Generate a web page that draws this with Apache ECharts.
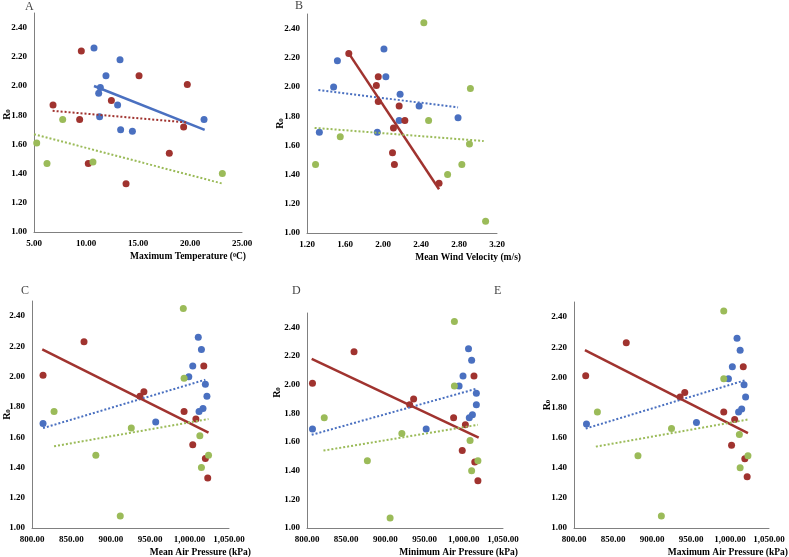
<!DOCTYPE html>
<html>
<head>
<meta charset="utf-8">
<script src="https://cdn.jsdelivr.net/npm/echarts@6/dist/echarts.min.js"></script>
<style>
  html, body { margin: 0; padding: 0; background: #fff; }
  #main { width: 789px; height: 557px; }
</style>
</head>
<body>
<div id="main"></div>
<script>
// A: 最高气温
var aBlue = [[10.77,2.26],[13.27,2.18],[11.92,2.07],[11.38,1.99],[11.22,1.95],[13.04,1.87],[11.31,1.79],[13.33,1.70],[14.46,1.69],[21.35,1.77]];
var aRed = [[9.55,2.24],[6.83,1.87],[9.39,1.77],[15.10,2.07],[12.44,1.90],[19.74,2.01],[19.39,1.72],[18.01,1.54],[10.22,1.47],[13.85,1.33]];
var aGreen = [[7.76,1.77],[5.26,1.61],[6.25,1.47],[10.67,1.48],[23.11,1.40]];
var aBlueFit = [[10.77,2.00],[21.41,1.70]];
var aRedFit = [[6.79,1.83],[19.74,1.75]];
var aGreenFit = [[5.0,1.67],[23.2,1.33]];
// B: 平均风速
var bBlue = [[1.33,1.69],[1.52,2.18],[1.48,2.00],[2.01,2.26],[2.03,2.07],[1.94,1.69],[2.18,1.95],[2.17,1.77],[2.38,1.87],[2.79,1.79]];
var bRed = [[1.64,2.23],[1.95,2.07],[1.93,2.01],[1.95,1.90],[2.17,1.87],[2.23,1.77],[2.11,1.72],[2.10,1.55],[2.12,1.47],[2.59,1.34]];
var bGreen = [[1.29,1.47],[1.55,1.66],[2.43,2.44],[2.48,1.77],[2.92,1.99],[2.91,1.61],[2.83,1.47],[2.68,1.40],[3.08,1.08]];
var bBlueFit = [[1.32,1.98],[2.79,1.86]];
var bRedFit = [[1.64,2.23],[2.59,1.30]];
var bGreenFit = [[1.28,1.72],[3.06,1.63]];
// C: 平均气压
var cBlue = [[814,1.69],[957,1.70],[999,2.00],[1004,2.07],[1011,2.26],[1015,2.18],[1020,1.95],[1022,1.87],[1017,1.79],[1012,1.77]];
var cRed = [[814,2.01],[866,2.23],[942,1.90],[937,1.87],[993,1.77],[1008,1.72],[1004,1.55],[1018,2.07],[1020,1.46],[1023,1.33]];
var cGreen = [[992,2.45],[993,1.99],[1013,1.61],[1015,1.40],[1024,1.48],[828,1.77],[926,1.66],[881,1.48],[912,1.08]];
var cBlueFit = [[814,1.66],[1020,1.98]];
var cRedFit = [[813,2.18],[1024,1.63]];
var cGreenFit = [[828,1.54],[1024,1.72]];
// D: 最低气压
var dBlue = [[807,1.69],[952,1.69],[994,1.99],[999,2.06],[1006,2.25],[1010,2.17],[1016,1.94],[1016,1.86],[1011,1.79],[1007,1.77]];
var dRed = [[807,2.01],[860,2.23],[936,1.90],[931,1.86],[987,1.77],[1002,1.72],[998,1.54],[1013,2.06],[1014,1.46],[1018,1.33]];
var dGreen = [[988,2.44],[988,1.99],[1008,1.61],[1010,1.40],[1018,1.47],[822,1.77],[921,1.66],[877,1.47],[906,1.07]];
var dBlueFit = [[806,1.65],[1015,1.97]];
var dRedFit = [[806,2.18],[1019,1.63]];
var dGreenFit = [[821,1.54],[1018,1.72]];
// E: 最高气压
var eBlue = [[816,1.69],[957,1.70],[998,1.99],[1003,2.07],[1009,2.26],[1013,2.18],[1018,1.95],[1020,1.87],[1015,1.79],[1011,1.77]];
var eRed = [[815,2.01],[867,2.23],[942,1.90],[936,1.87],[992,1.77],[1006,1.72],[1002,1.55],[1017,2.07],[1019,1.46],[1022,1.34]];
var eGreen = [[992,2.44],[992,1.99],[1012,1.62],[1013,1.40],[1023,1.48],[830,1.77],[925,1.66],[882,1.48],[912,1.08]];
var eBlueFit = [[815,1.66],[1019,1.98]];
var eRedFit = [[814,2.18],[1023,1.63]];
var eGreenFit = [[828,1.54],[1023,1.72]];

var panelLetters = ['A', 'B', 'C', 'D', 'E'];
var xNames = ['{t|Maximum Temperature (}{sup|0}{t|C)}', 'Mean Wind Velocity (m/s)', 'Mean Air Pressure (kPa)', 'Minimum Air Pressure (kPa)', 'Maximum Air Pressure (kPa)'];

var BLUE = '#4A70C0', RED = '#A0332F', GREEN = '#9BBB59';
var FONT = '"Liberation Serif", "DejaVu Serif", serif';

var chart = echarts.init(document.getElementById('main'));

// 每个小图的网格位置
var grids = [
  {left: 34, top: 13, width: 208, height: 219},
  {left: 307, top: 14, width: 190, height: 219},
  {left: 32, top: 301, width: 197, height: 227},
  {left: 307, top: 313, width: 196, height: 215},
  {left: 574, top: 302, width: 195, height: 226}
];
var xRanges = [[5, 25, 5], [1.2, 3.2, 0.4], [800, 1050, 50], [800, 1050, 50], [800, 1050, 50]];
var nameShift = [4, 24, 22, 15, 19];
var yNameShift = [16, 0, 0, 56, 20];
var yNameGap = [22, 22, 20, 25, 22];
var letterPos = [[25, 1], [295, 0], [21, 285], [292, 285], [494, 285]];

function fmtX(v) {
  return v.toLocaleString('en-US', {minimumFractionDigits: 2, maximumFractionDigits: 2});
}

var xAxis = [], yAxis = [], series = [], title = [];
for (var i = 0; i < 5; i++) {
  grids[i].containLabel = false;
  grids[i].outerBoundsMode = 'none';
  xAxis.push({
    type: 'value', gridIndex: i,
    min: xRanges[i][0], max: xRanges[i][1], interval: xRanges[i][2],
    splitLine: {show: false},
    axisTick: {show: false},
    axisLine: {lineStyle: {color: '#808080', width: 1}},
    axisLabel: {fontFamily: FONT, fontWeight: 'bold', fontSize: 9, color: '#000', margin: 7, formatter: fmtX},
    name: xNames[i], nameLocation: 'end', nameGap: nameShift[i], nameMoveOverlap: false,
    nameTextStyle: {
      fontFamily: FONT, fontWeight: 'bold', fontSize: 9.5, color: '#000',
      align: 'right', verticalAlign: 'top', padding: [20, 0, 0, 0],
      rich: {
        t: {fontFamily: FONT, fontWeight: 'bold', fontSize: 9.5, color: '#000'},
        sup: {fontFamily: FONT, fontWeight: 'bold', fontSize: 6, color: '#000', verticalAlign: 'top', padding: [0, 0, 4, 0]}
      }
    }
  });
  yAxis.push({
    type: 'value', gridIndex: i,
    min: 1, max: 2.5, interval: 0.2,
    splitLine: {show: false},
    axisTick: {show: false},
    axisLine: {show: true, lineStyle: {color: '#808080', width: 1}},
    axisLabel: {fontFamily: FONT, fontWeight: 'bold', fontSize: 9, color: '#000', margin: 7, showMaxLabel: false,
      formatter: function (v) { return v.toFixed(2); }},
    name: '{r|R}{s|0}', nameLocation: 'middle', nameRotate: 90, nameGap: yNameGap[i], nameMoveOverlap: false,
    nameTextStyle: {
      padding: [0, 0, 0, yNameShift[i]],
      rich: {
        r: {fontFamily: FONT, fontWeight: 'bold', fontSize: 10, color: '#000'},
        s: {fontFamily: FONT, fontWeight: 'bold', fontSize: 7, color: '#000', verticalAlign: 'bottom', padding: [3, 0, 0, 0]}
      }
    }
  });
  title.push({
    text: panelLetters[i], left: letterPos[i][0], top: letterPos[i][1], padding: 0,
    textStyle: {fontFamily: FONT, fontWeight: 'normal', fontSize: 12, color: '#444'}
  });
}

function scatter(idx, data, color) {
  return {type: 'scatter', xAxisIndex: idx, yAxisIndex: idx, data: data, symbolSize: 7,
    itemStyle: {color: color, opacity: 1}, z: 2};
}
function fit(idx, data, color, solid) {
  return {type: 'line', xAxisIndex: idx, yAxisIndex: idx, data: data, symbol: 'none',
    lineStyle: {color: color, width: solid ? 2.5 : 2, type: solid ? 'solid' : [2, 2]}, z: 3};
}

var panels = [
  [aBlue, aRed, aGreen, aBlueFit, aRedFit, aGreenFit, 'blue'],
  [bBlue, bRed, bGreen, bBlueFit, bRedFit, bGreenFit, 'red'],
  [cBlue, cRed, cGreen, cBlueFit, cRedFit, cGreenFit, 'red'],
  [dBlue, dRed, dGreen, dBlueFit, dRedFit, dGreenFit, 'red'],
  [eBlue, eRed, eGreen, eBlueFit, eRedFit, eGreenFit, 'red']
];
panels.forEach(function (p, i) {
  series.push(scatter(i, p[0], BLUE));
  series.push(scatter(i, p[1], RED));
  series.push(scatter(i, p[2], GREEN));
  series.push(fit(i, p[3], BLUE, p[6] === 'blue'));
  series.push(fit(i, p[4], RED, p[6] === 'red'));
  series.push(fit(i, p[5], GREEN, false));
});

chart.setOption({
  animation: false,
  backgroundColor: '#fff',
  title: title,
  grid: grids,
  xAxis: xAxis,
  yAxis: yAxis,
  series: series
});
</script>
</body>
</html>
